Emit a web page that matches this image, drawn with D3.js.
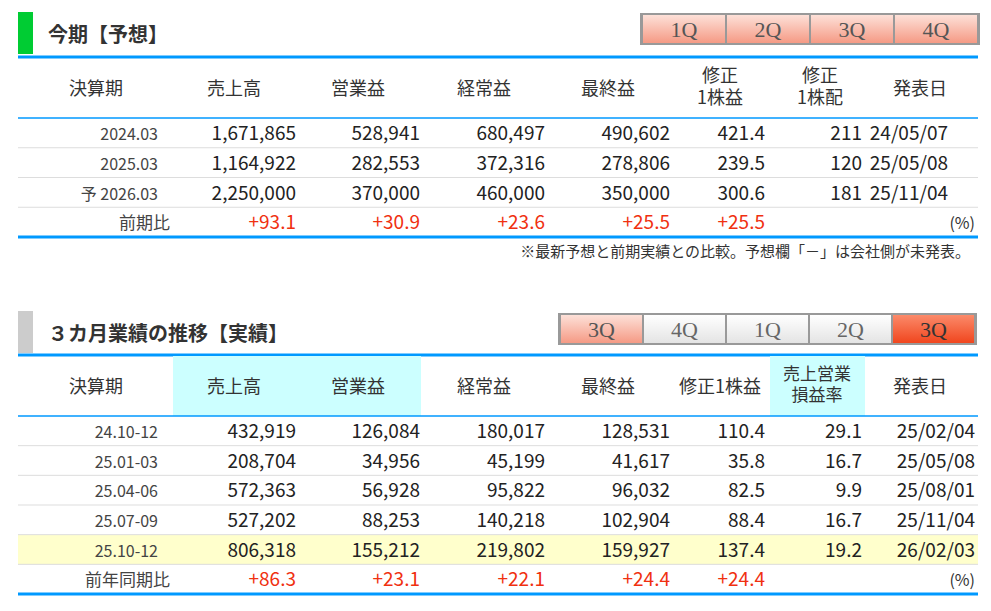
<!DOCTYPE html><html><head><meta charset="utf-8">
<script src="https://cdn.jsdelivr.net/npm/d3@7"></script>
<style>body{margin:0;background:#fff}text{font-family:"Noto Sans CJK JP","Noto Sans",sans-serif}</style></head><body>
<svg id="c" width="991" height="611"></svg>
<script>
const fcPeriods=["2024.03","2025.03","予 2026.03"];
const fcSales=["1,671,865","1,164,922","2,250,000"];
const fcOp=["528,941","282,553","370,000"];
const fcOrd=["680,497","372,316","460,000"];
const fcNet=["490,602","278,806","350,000"];
const fcEps=["421.4","239.5","300.6"];
const fcDiv=["211","120","181"];
const fcDate=["24/05/07","25/05/08","25/11/04"];
const fcChange=["+93.1","+30.9","+23.6","+25.5","+25.5"];
const qPeriods=["24.10-12","25.01-03","25.04-06","25.07-09","25.10-12"];
const qSales=["432,919","208,704","572,363","527,202","806,318"];
const qOp=["126,084","34,956","56,928","88,253","155,212"];
const qOrd=["180,017","45,199","95,822","140,218","219,802"];
const qNet=["128,531","41,617","96,032","102,904","159,927"];
const qEps=["110.4","35.8","82.5","88.4","137.4"];
const qMargin=["29.1","16.7","9.9","16.7","19.2"];
const qDate=["25/02/04","25/05/08","25/08/01","25/11/04","26/02/03"];
const qChange=["+86.3","+23.1","+22.1","+24.4","+24.4"];
const btn1=["1Q","2Q","3Q","4Q"], btn2=["3Q","4Q","1Q","2Q","3Q"];

const svg=d3.select("#c");
const defs=svg.append("defs");
function grad(id,a,b){const g=defs.append("linearGradient").attr("id",id).attr("x1",0).attr("x2",0).attr("y1",0).attr("y2",1);
g.append("stop").attr("offset",0).attr("stop-color",a);g.append("stop").attr("offset",1).attr("stop-color",b);}
grad("pink","#fde0d8","#f59a85");grad("white","#ffffff","#e4e4e4");grad("red","#fb8a6a","#f0461e");

function buttons(x0,y,w,labels,styles){
 const x=d3.scaleBand().domain(d3.range(labels.length)).range([x0,x0+w*labels.length]);
 svg.append("rect").attr("x",x0-2).attr("y",y-2).attr("width",w*labels.length+4).attr("height",32).attr("fill","#999");
 labels.forEach((l,i)=>{
  svg.append("rect").attr("x",x(i)+1).attr("y",y).attr("width",w-2).attr("height",28).attr("fill",`url(#${styles[i]})`);
  svg.append("text").attr("x",x(i)+w/2).attr("y",y+22).attr("text-anchor","middle").style("font-family","'Liberation Serif',serif")
   .attr("font-size",22).attr("fill",styles[i]==="white"?"#666":(styles[i]==="red"?"#333":"#555")).text(l);
 });
}
function title(y,col,t){
 svg.append("rect").attr("x",18).attr("y",y).attr("width",15).attr("height",42).attr("fill",col);
 svg.append("text").attr("x",48).attr("y",y+30).attr("font-size",20).attr("font-weight","bold").attr("fill","#333").text(t);
}
function hline(y,w,c){svg.append("line").attr("x1",18).attr("x2",978).attr("y1",y).attr("y2",y).attr("stroke",c).attr("stroke-width",w);}
function txt(x,y,s,anchor,col,size){svg.append("text").attr("x",x).attr("y",y).attr("text-anchor",anchor).attr("font-size",size||17).attr("fill",col||"#222").text(s);}

// Section 1
title(12,"#00cc33","今期【予想】");
buttons(642,15,84,btn1,["pink","pink","pink","pink"]);
hline(57,3,"#0099ff");
const hd1=[["決算期",96],["売上高",234],["営業益",358],["経常益",484],["最終益",608],["修正\n1株益",720],["修正\n1株配",820],["発表日",920]];
hd1.forEach(([t,x])=>{const p=t.split("\n");p.forEach((s,i)=>txt(x,p.length>1?82+i*22:95,s,"middle","#333",18));});
hline(118,1.5,"#0099ff");
const y1=d3.scaleBand().domain(d3.range(4)).range([118,237]);
const cols1=[[fcSales,296],[fcOp,420],[fcOrd,545],[fcNet,670],[fcEps,765],[fcDiv,862],[fcDate,948]];
fcPeriods.forEach((p,i)=>{const yy=y1(i)+22;
 txt(158,yy,p,"end","#444",16);
 cols1.forEach(([a,x])=>txt(x,yy,a[i],"end","#222",19));
 hline(y1(i)+y1.bandwidth(),1,"#ddd");});
txt(170,y1(3)+22,"前期比","end","#444",17);
fcChange.forEach((v,i)=>txt(cols1[i][1],y1(3)+22,v,"end","#f03010",19));
txt(975,y1(3)+22,"(%)","end","#333",16);
hline(237,3,"#0099ff");
txt(970,257,"※最新予想と前期実績との比較。予想欄「－」は会社側が未発表。","end","#333",15);

// Section 2
title(311,"#cccccc","３カ月業績の推移【実績】");
buttons(560,315,83,btn2,["pink","white","white","white","red"]);
hline(355,3,"#0099ff");
svg.append("rect").attr("x",173).attr("y",356).attr("width",248).attr("height",60).attr("fill","#ccffff");
svg.append("rect").attr("x",770).attr("y",356).attr("width",95).attr("height",60).attr("fill","#ccffff");
const hd2=[["決算期",96],["売上高",234],["営業益",358],["経常益",484],["最終益",608],["修正1株益",720],["売上営業\n損益率",817],["発表日",920]];
hd2.forEach(([t,x])=>{const p=t.split("\n");p.forEach((s,i)=>txt(x,p.length>1?380+i*21:393,s,"middle","#333",p.length>1?17:18));});
hline(416,1.5,"#0099ff");
const y2=d3.scaleBand().domain(d3.range(6)).range([416,594]);
svg.append("rect").attr("x",18).attr("y",y2(4)).attr("width",960).attr("height",y2.bandwidth()).attr("fill","#ffffcc");
const cols2=[[qSales,296],[qOp,420],[qOrd,545],[qNet,670],[qEps,765],[qMargin,862],[qDate,975]];
qPeriods.forEach((p,i)=>{const yy=y2(i)+22;
 txt(158,yy,p,"end","#444",16);
 cols2.forEach(([a,x])=>txt(x,yy,a[i],"end","#222",19));
 hline(y2(i)+y2.bandwidth(),1,"#ddd");});
txt(170,y2(5)+22,"前年同期比","end","#444",17);
qChange.forEach((v,i)=>txt(cols2[i][1],y2(5)+22,v,"end","#f03010",19));
txt(975,y2(5)+22,"(%)","end","#333",16);
hline(594,3,"#0099ff");
</script></body></html>
